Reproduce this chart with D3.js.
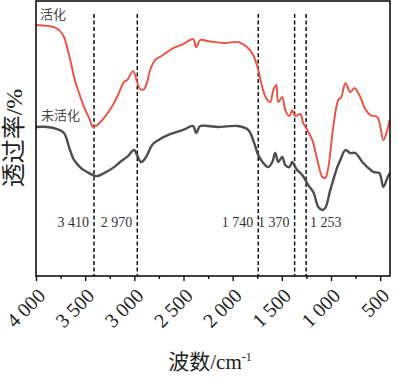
<!DOCTYPE html>
<html>
<head>
<meta charset="utf-8">
<script src="https://cdn.jsdelivr.net/npm/d3@7"></script>
<style>
  body { margin: 0; background: #fff; }
  svg { display: block; }
  .chart text { font-family: "Liberation Serif", "Noto Sans CJK SC", serif; }
</style>
</head>
<body>
<svg class="chart"></svg>
<script>
// Activated sample (red)
var activeWave = [4000, 3817, 3766, 3715, 3684, 3644, 3613, 3562, 3511, 3460, 3420, 3379, 3308, 3237, 3175, 3104, 3074, 3013, 2972, 2941, 2901, 2870, 2839, 2789, 2707, 2605, 2504, 2402, 2371, 2330, 2249, 2178, 2076, 1944, 1852, 1791, 1740, 1699, 1659, 1618, 1587, 1557, 1536, 1496, 1465, 1424, 1394, 1363, 1312, 1282, 1241, 1190, 1139, 1088, 1058, 1027, 977, 926, 895, 854, 803, 763, 702, 661, 600, 529, 498, 468, 427, 405];
var activeT = [83.7, 83.0, 82.0, 79.7, 76.3, 71.0, 66.3, 61.0, 56.3, 52.7, 49.7, 50.3, 52.7, 56.0, 59.7, 64.7, 65.3, 68.3, 64.7, 62.3, 62.3, 64.7, 68.7, 72.0, 73.7, 76.0, 77.3, 79.0, 76.3, 78.7, 78.3, 78.0, 77.7, 78.0, 76.3, 73.7, 68.7, 63.0, 59.3, 58.0, 62.0, 63.7, 58.0, 59.7, 55.3, 53.3, 55.3, 53.3, 54.0, 51.0, 48.7, 45.3, 38.7, 33.0, 32.7, 36.3, 49.7, 58.7, 59.7, 64.3, 61.3, 62.7, 59.7, 56.3, 53.7, 53.0, 49.7, 45.3, 48.7, 52.0];

// Raw sample (gray)
var rawWave = [4000, 3888, 3786, 3715, 3664, 3613, 3542, 3481, 3389, 3308, 3206, 3145, 3074, 3002, 2972, 2931, 2880, 2819, 2758, 2636, 2504, 2402, 2371, 2330, 2249, 2147, 1944, 1842, 1781, 1740, 1689, 1638, 1597, 1567, 1536, 1496, 1465, 1424, 1394, 1363, 1343, 1292, 1231, 1180, 1129, 1088, 1058, 1007, 936, 905, 854, 803, 753, 681, 630, 569, 508, 468, 427, 405];
var rawT = [49.7, 49.7, 49.0, 47.7, 43.0, 38.7, 36.0, 34.7, 33.3, 34.3, 36.3, 38.0, 39.7, 42.0, 40.3, 38.0, 39.7, 43.7, 45.3, 47.3, 48.7, 50.0, 47.7, 50.0, 50.0, 49.7, 50.0, 48.7, 44.3, 40.3, 37.7, 36.3, 38.0, 41.0, 38.0, 39.7, 37.0, 36.3, 38.0, 36.3, 35.3, 33.7, 30.3, 28.0, 23.0, 22.0, 22.7, 28.7, 36.3, 38.7, 42.0, 41.0, 41.0, 38.0, 36.3, 34.7, 34.3, 29.7, 32.7, 34.3];

// Marked peaks
var peaks = [3410, 2970, 1740, 1370, 1253];
var peakLabels = ["3 410", "2 970", "1 740", "1 370", "1 253"];
var peakSide = ["left", "left", "left", "left", "right"];

var xTicks = [4000, 3500, 3000, 2500, 2000, 1500, 1000, 500];
var xMinorTicks = [3750, 3250, 2750, 2250, 1750, 1250, 750];

var seriesNames = ["活化", "未活化"];

const width = 398;
const height = 378;
const marginTop = 1;
const marginRight = 8;
const marginBottom = 102;
const marginLeft = 36;

var svg = d3.select(".chart")
    .attr("width", width)
    .attr("height", height);

var x = d3.scaleLinear()
    .domain([4000, 400])
    .range([marginLeft, width - marginRight]);

var y = d3.scaleLinear()
    .domain([0, 91.7])
    .range([height - marginBottom, marginTop]);

var spaceFmt = d3.formatLocale({ decimal: ".", thousands: " ", grouping: [3], currency: ["", ""] }).format(",");

// dashed peak lines
svg.selectAll(".peak-line")
    .data(peaks)
    .enter()
    .append("line")
    .attr("class", "peak-line")
    .attr("x1", d => x(d))
    .attr("x2", d => x(d))
    .attr("y1", 14)
    .attr("y2", height - marginBottom)
    .attr("stroke", "#000")
    .attr("stroke-width", 1.4)
    .attr("stroke-dasharray", "4,2.5");

svg.selectAll(".peak-label")
    .data(peaks)
    .enter()
    .append("text")
    .attr("class", "peak-label")
    .attr("x", (d, i) => peakSide[i] == "left" ? x(d) - 5 : x(d) + 4)
    .attr("y", 227)
    .style("text-anchor", (d, i) => peakSide[i] == "left" ? "end" : "start")
    .style("font-size", "14px")
    .style("fill", "#333")
    .text((d, i) => peakLabels[i]);

// curves
var line = d3.line()
    .x(d => x(d[0]))
    .y(d => y(d[1]))
    .curve(d3.curveCatmullRom.alpha(0.5));

svg.append("path")
    .datum(rawWave.map((w, i) => [w, rawT[i]]))
    .attr("d", line)
    .attr("fill", "none")
    .attr("stroke", "#4d4d4d")
    .attr("stroke-width", 2.4);

svg.append("path")
    .datum(activeWave.map((w, i) => [w, activeT[i]]))
    .attr("d", line)
    .attr("fill", "none")
    .attr("stroke", "#ec5040")
    .attr("stroke-width", 1.9);

// series labels
svg.append("text")
    .attr("x", 40)
    .attr("y", 19)
    .style("font-size", "13px")
    .style("fill", "#444")
    .text(seriesNames[0]);

svg.append("text")
    .attr("x", 41)
    .attr("y", 120)
    .style("font-size", "13px")
    .style("fill", "#444")
    .text(seriesNames[1]);

// frame
svg.append("rect")
    .attr("x", marginLeft)
    .attr("y", marginTop)
    .attr("width", width - marginRight - marginLeft)
    .attr("height", height - marginBottom - marginTop)
    .attr("fill", "none")
    .attr("stroke", "#000")
    .attr("stroke-width", 1.5);

// x axis
var xAxis = svg.append("g")
    .attr("class", "axis")
    .attr("transform", "translate(0," + (height - marginBottom) + ")")
    .call(d3.axisBottom(x).tickValues(xTicks).tickSize(5).tickFormat(spaceFmt));

xAxis.select(".domain").remove();
xAxis.selectAll(".tick line").attr("stroke-width", 1.3);
xAxis.selectAll("text")
    .attr("y", 0)
    .attr("dy", 0)
    .attr("transform", "translate(10,21) rotate(-45)")
    .style("text-anchor", "end")
    .style("font-size", "20px")
    .style("fill", "#222");

var xMinor = svg.append("g")
    .attr("transform", "translate(0," + (height - marginBottom) + ")")
    .call(d3.axisBottom(x).tickValues(xMinorTicks).tickSize(3).tickFormat(""));
xMinor.select(".domain").remove();
xMinor.selectAll(".tick line").attr("stroke-width", 1.3);

// axis titles
var xTitle = svg.append("text")
    .attr("x", 210)
    .attr("y", 369)
    .style("text-anchor", "middle")
    .style("font-size", "21px")
    .style("fill", "#222");
xTitle.append("tspan").text("波数/cm");
xTitle.append("tspan").attr("dy", -8).style("font-size", "12px").text("-1");

svg.append("text")
    .attr("transform", "translate(22,138) rotate(-90)")
    .style("text-anchor", "middle")
    .style("font-size", "24px")
    .style("fill", "#222")
    .text("透过率/%");
</script>
</body>
</html>
